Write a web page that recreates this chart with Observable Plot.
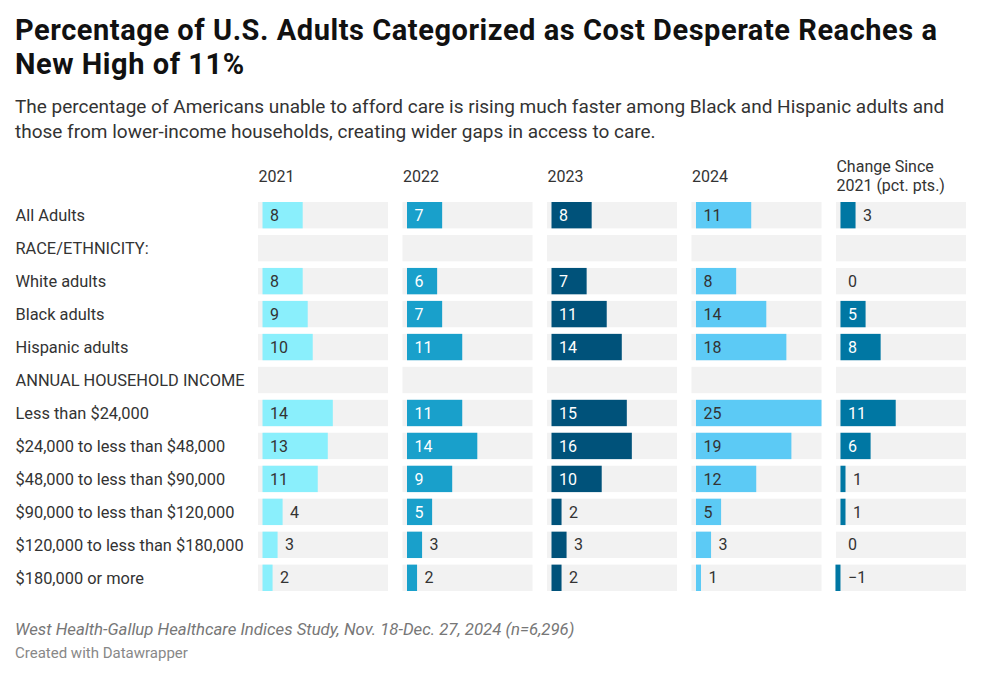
<!DOCTYPE html>
<html>
<head>
<meta charset="utf-8">
<script src="https://cdn.jsdelivr.net/npm/d3@7"></script>
<script src="https://cdn.jsdelivr.net/npm/@observablehq/plot@0.6"></script>
<style>
  html, body { margin: 0; padding: 0; background: #fff; }
  body { width: 988px; font-family: Roboto, "Noto Sans", sans-serif; color: #222; }
  #title { margin: 13px 0 0 15px; width: 960px; font-size: 29px; letter-spacing: 0.55px; line-height: 34px; font-weight: 700; color: #111; }
  #subtitle { margin: 13px 0 0 15px; width: 960px; font-size: 19px; line-height: 25px; color: #333; }
  #chart { margin-top: 0; }
  #chart svg { display: block; }
  #source { margin: 23px 0 0 15px; font-size: 16.8px; line-height: 20px; font-style: italic; color: #777; }
  #credit { margin: 5px 0 0 15px; font-size: 15px; line-height: 18px; color: #888; }
</style>
</head>
<body>
<div id="title">Percentage of U.S. Adults Categorized as Cost Desperate Reaches a New High of 11%</div>
<div id="subtitle">The percentage of Americans unable to afford care is rising much faster among Black and Hispanic adults and those from lower-income households, creating wider gaps in access to care.</div>
<div id="chart"></div>
<div id="source">West Health-Gallup Healthcare Indices Study, Nov. 18-Dec. 27, 2024 (n=6,296)</div>
<div id="credit">Created with Datawrapper</div>
<script>
const rows = [
  "All Adults",
  "RACE/ETHNICITY:",
  "White adults",
  "Black adults",
  "Hispanic adults",
  "ANNUAL HOUSEHOLD INCOME",
  "Less than $24,000",
  "$24,000 to less than $48,000",
  "$48,000 to less than $90,000",
  "$90,000 to less than $120,000",
  "$120,000 to less than $180,000",
  "$180,000 or more"
];
const columns = ["2021", "2022", "2023", "2024", "change"];
const headerLabels = ["2021", "2022", "2023", "2024", "Change Since\n2021 (pct. pts.)"];
const v2021 = [8, null, 8, 9, 10, null, 14, 13, 11, 4, 3, 2];
const v2022 = [7, null, 6, 7, 11, null, 11, 14, 9, 5, 3, 2];
const v2023 = [8, null, 7, 11, 14, null, 15, 16, 10, 2, 3, 2];
const v2024 = [11, null, 8, 14, 18, null, 25, 19, 12, 5, 3, 1];
const vChange = [3, null, 0, 5, 8, null, 11, 6, 1, 1, 0, -1];
const series = [v2021, v2022, v2023, v2024, vChange];

const barColors = {"2021": "#8aeffc", "2022": "#19a0cb", "2023": "#00527a", "2024": "#5ccaf5", "change": "#0077a3"};
const insideText = {"2021": "#333333", "2022": "#ffffff", "2023": "#ffffff", "2024": "#333333", "change": "#ffffff"};
const bgColor = "#f2f2f2";
const xDomain = [-0.9, 25];

const table = rows.flatMap((r, i) => columns.map((c, j) => ({row: r, col: c, v: series[j][i]})));
const valued = table.filter(d => d.v != null);
const fmt = d3.format("d");

const plot = Plot.plot({
  width: 988,
  height: 452,
  marginLeft: 258,
  marginRight: 22,
  marginTop: 58,
  marginBottom: 5,
  fx: {domain: columns, paddingInner: 0.1, paddingOuter: 0, round: false, axis: null},
  y: {domain: rows, paddingInner: 0.2, paddingOuter: 0, round: false, axis: null},
  x: {domain: xDomain, axis: null},
  style: {fontFamily: "Roboto, 'Noto Sans', sans-serif", overflow: "visible"},
  marks: [
    Plot.barX(table, {fx: "col", y: "row", x1: () => xDomain[0], x2: () => xDomain[1], fill: bgColor}),
    Plot.barX(valued, {fx: "col", y: "row", x1: () => 0, x2: "v", fill: d => barColors[d.col]}),
    Plot.text(valued, {
      fx: "col", y: "row",
      x: d => d.v >= 5 ? 0 : Math.max(d.v, 0),
      text: d => fmt(d.v),
      textAnchor: "start", dx: 7, fontSize: 16,
      fill: d => d.v >= 5 ? insideText[d.col] : "#333333"
    }),
    Plot.text(columns, {
      fx: d => d, text: (d, i) => headerLabels[i],
      frameAnchor: "top-left", textAnchor: "start", lineAnchor: "middle",
      dy: -27, fontSize: 16, lineHeight: 1.2, fill: "#333333"
    }),
    Plot.text(rows, {
      fx: () => columns[0], y: d => d, text: d => d,
      frameAnchor: "left", textAnchor: "start", dx: -243,
      fontSize: 16.4, fill: "#333333"
    })
  ]
});
document.getElementById("chart").appendChild(plot);
</script>
</body>
</html>
